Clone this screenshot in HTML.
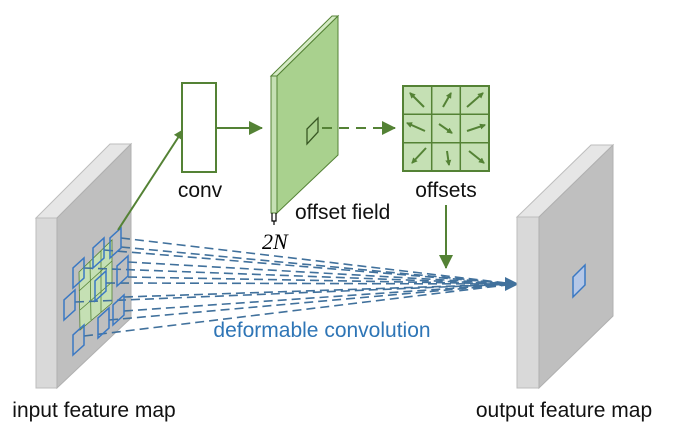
<!DOCTYPE html>
<html><head><meta charset="utf-8"><style>body{margin:0;background:#fff}svg{display:block}text{font-family:"Liberation Sans",sans-serif}</style></head><body>
<svg width="675" height="433" viewBox="0 0 675 433" xmlns="http://www.w3.org/2000/svg">
<defs>
<marker id="ga" markerWidth="10" markerHeight="10" refX="9" refY="5" orient="auto" markerUnits="userSpaceOnUse" viewBox="0 0 10 10"><path d="M0,0L10,5L0,10z" fill="#548235"/></marker>
<marker id="ga2" markerWidth="14" markerHeight="14" refX="13" refY="7" orient="auto" markerUnits="userSpaceOnUse" viewBox="0 0 14 14"><path d="M0,0L14,7L0,14z" fill="#548235"/></marker>
<marker id="ba" markerWidth="14" markerHeight="14" refX="13" refY="7" orient="auto" markerUnits="userSpaceOnUse" viewBox="0 0 14 14"><path d="M0,0L14,7L0,14z" fill="#41719c"/></marker>
<marker id="sa" markerWidth="6" markerHeight="6" refX="5" refY="3" orient="auto" markerUnits="userSpaceOnUse" viewBox="0 0 6 6"><path d="M0,0L6,3L0,6z" fill="#548235"/></marker>
</defs>
<polygon points="36,218 57,218 131,144 110,144" fill="#e6e6e6" stroke="#bdbdbd"/>
<polygon points="36,218 57,218 57,388 36,388" fill="#d9d9d9" stroke="#bdbdbd"/>
<polygon points="57,218 131,144 131,318 57,388" fill="#bfbfbf" stroke="#b0b0b0"/>
<polygon points="79,272 112,240 112,303 80,330" fill="#c5e0b4" stroke="#548235" stroke-width="0.8"/>
<g stroke="#548235" stroke-width="0.8"><line x1="90" y1="261" x2="91" y2="320"/><line x1="101" y1="251" x2="101" y2="312"/><line x1="79" y1="291" x2="112" y2="261"/><line x1="80" y1="310" x2="112" y2="282"/></g>
<g stroke="#41719c" stroke-width="1.6" stroke-dasharray="9,5" fill="none">
<line x1="121" y1="238" x2="515" y2="284"/><line x1="121" y1="247" x2="515" y2="284"/>
<line x1="104" y1="250" x2="515" y2="284"/>
<line x1="128" y1="262" x2="515" y2="284"/><line x1="128" y1="277" x2="515" y2="284"/>
<line x1="84" y1="268" x2="515" y2="284"/>
<line x1="106" y1="283" x2="515" y2="284"/>
<line x1="75" y1="302" x2="515" y2="284"/>
<line x1="124" y1="297" x2="515" y2="284"/><line x1="124" y1="311" x2="515" y2="284"/>
<line x1="109" y1="320" x2="515" y2="284"/>
<line x1="84" y1="336" x2="515" y2="284"/>
</g>
<line x1="500" y1="284" x2="518" y2="284" stroke="#41719c" stroke-width="2" marker-end="url(#ba)"/>
<g fill="none" stroke="#3a78c3" stroke-width="1.5">
<polygon points="110,258 121,248 121,228 110,238"/>
<polygon points="93,268 104,258 104,238 93,248"/>
<polygon points="73,288 84,278 84,258 73,268"/>
<polygon points="117,286 128,276 128,256 117,266"/>
<polygon points="95,301 106,291 106,271 95,281"/>
<polygon points="64,320 75,310 75,290 64,300"/>
<polygon points="113,325 124,315 124,295 113,305"/>
<polygon points="98,338 109,328 109,308 98,318"/>
<polygon points="73,355 84,345 84,325 73,335"/>
</g>
<line x1="118" y1="230" x2="183" y2="130" stroke="#548235" stroke-width="2" marker-end="url(#ga)"/>
<rect x="182" y="83" width="34" height="89" fill="#fff" stroke="#548235" stroke-width="2"/>
<text x="200" y="197" font-size="21" text-anchor="middle" fill="#111">conv</text>
<line x1="216" y1="128" x2="262" y2="128" stroke="#548235" stroke-width="2" marker-end="url(#ga2)"/>
<polygon points="271,76 277,76 338,16 332,16" fill="#d4eac4" stroke="#548235" stroke-width="1"/>
<polygon points="271,76 277,76 277,213 271,213" fill="#c5e0b4" stroke="#548235" stroke-width="1"/>
<polygon points="277,76 338,16 338,155 277,213" fill="#a9d18e" stroke="#548235" stroke-width="1"/>
<polygon points="307,129 318,118 318,132 307,144" fill="none" stroke="#385723" stroke-width="1.3"/>
<path d="M272,213 v8 h4 v-8 M274,221 v4" fill="none" stroke="#000" stroke-width="1.2"/>
<text x="262" y="249" font-size="22" font-style="italic" fill="#000" style="font-family:'Liberation Serif',serif">2N</text>
<text x="295" y="219" font-size="21" fill="#111">offset field</text>
<line x1="322" y1="128" x2="395" y2="128" stroke="#548235" stroke-width="2" stroke-dasharray="10,7" marker-end="url(#ga2)"/>
<rect x="403" y="86" width="86" height="85" fill="#c5e0b4" stroke="#548235" stroke-width="2"/>
<g stroke="#548235" stroke-width="1.5"><line x1="431.7" y1="86" x2="431.7" y2="171"/><line x1="460.3" y1="86" x2="460.3" y2="171"/><line x1="403" y1="114.3" x2="489" y2="114.3"/><line x1="403" y1="142.7" x2="489" y2="142.7"/></g>
<g stroke="#548235" stroke-width="2" marker-end="url(#sa)">
<line x1="424" y1="107" x2="410" y2="93"/><line x1="443" y1="107" x2="451" y2="93"/><line x1="467" y1="107" x2="483" y2="93"/>
<line x1="425" y1="131" x2="407" y2="123"/><line x1="439" y1="124" x2="452" y2="133"/><line x1="467" y1="131" x2="485" y2="125"/>
<line x1="426" y1="148" x2="412" y2="163"/><line x1="447" y1="151" x2="449" y2="165"/><line x1="469" y1="151" x2="484" y2="163"/>
</g>
<text x="446" y="197" font-size="21" text-anchor="middle" fill="#111">offsets</text>
<line x1="446" y1="205" x2="446" y2="268" stroke="#548235" stroke-width="2" marker-end="url(#ga2)"/>
<polygon points="517,217 539,217 613,145 591,145" fill="#e6e6e6" stroke="#bdbdbd"/>
<polygon points="517,217 539,217 539,388 517,388" fill="#d9d9d9" stroke="#bdbdbd"/>
<polygon points="539,217 613,145 613,316 539,388" fill="#bfbfbf" stroke="#b0b0b0"/>
<polygon points="573,277 585,265 585,285 573,297" fill="#b4c7e7" stroke="#3a78c3" stroke-width="1.5"/>
<text x="322" y="337" font-size="21" text-anchor="middle" fill="#2e75b6">deformable convolution</text>
<text x="94" y="417" font-size="21" text-anchor="middle" fill="#111">input feature map</text>
<text x="564" y="417" font-size="21" text-anchor="middle" fill="#111">output feature map</text>
</svg>
</body></html>
